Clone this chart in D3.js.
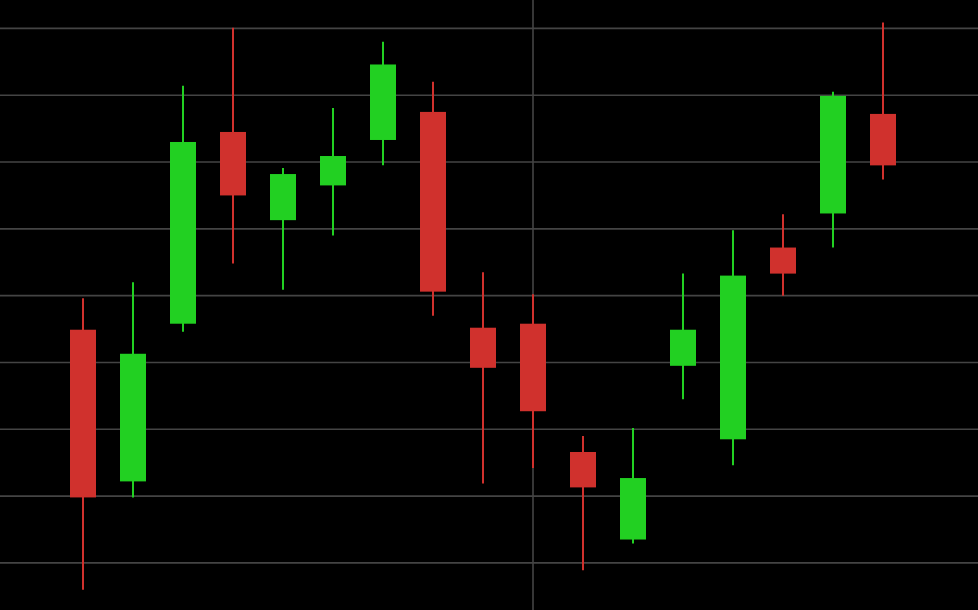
<!DOCTYPE html>
<html>
<head>
<meta charset="utf-8">
<script src="https://cdn.jsdelivr.net/npm/d3@7"></script>
<style>
  html, body { margin: 0; padding: 0; background: #000; overflow: hidden; }
</style>
</head>
<body>
<div id="chart"></div>
<script>
// candle data, one entry per session
var days = ["D1","D2","D3","D4","D5","D6","D7","D8","D9","D10","D11","D12","D13","D14","D15","D16","D17"];
var opens  = [44.9, 22.2, 45.8, 74.5, 61.3, 66.5, 73.3, 77.5, 45.2, 45.8, 26.6, 13.5, 39.5, 28.5, 57.2, 62.3, 77.2];
var highs  = [49.6, 52.0, 81.4, 90.1, 69.1, 78.1, 88.0, 82.0, 53.5, 50.2, 29.0, 30.2, 53.3, 59.8, 62.2, 80.5, 90.9];
var lows   = [ 6.0, 19.8, 44.6, 54.8, 50.9, 59.0, 69.5, 47.0, 21.9, 24.2,  8.9, 12.9, 34.5, 24.6, 50.0, 57.2, 67.4];
var closes = [19.8, 41.3, 73.0, 65.0, 68.2, 70.9, 84.6, 50.6, 39.2, 32.7, 21.3, 22.7, 44.9, 53.0, 53.3, 79.9, 69.5];
var gridValues = [10, 20, 30, 40, 50, 60, 70, 80, 90];
var markerDay = "D10";

var width = 978, height = 610;

var data = days.map(function(d, i) {
  return {day: d, open: opens[i], high: highs[i], low: lows[i], close: closes[i]};
});

var svg = d3.select("#chart")
  .append("svg")
  .attr("width", width)
  .attr("height", height)
  .style("display", "block")
  .style("background", "#000");

var x = d3.scaleBand()
  .domain(days)
  .range([58, 908])
  .paddingInner(0.48)
  .paddingOuter(0.24);

var y = d3.scaleLinear()
  .domain([10, 90])
  .range([562.9, 28.4]);

// horizontal grid
svg.append("g")
  .selectAll("line")
  .data(gridValues)
  .join("line")
  .attr("x1", 0)
  .attr("x2", width)
  .attr("y1", function(d) { return y(d); })
  .attr("y2", function(d) { return y(d); })
  .attr("stroke", "#444")
  .attr("stroke-width", 1.6);

// vertical marker line
svg.append("line")
  .attr("x1", x(markerDay) + x.bandwidth() / 2)
  .attr("x2", x(markerDay) + x.bandwidth() / 2)
  .attr("y1", 0)
  .attr("y2", height)
  .attr("stroke", "#444")
  .attr("stroke-width", 1.6);

function color(d) { return d.close >= d.open ? "#22d022" : "#d0312d"; }

var candles = svg.append("g")
  .selectAll("g")
  .data(data)
  .join("g");

// wicks
candles.append("line")
  .attr("x1", function(d) { return x(d.day) + x.bandwidth() / 2; })
  .attr("x2", function(d) { return x(d.day) + x.bandwidth() / 2; })
  .attr("y1", function(d) { return y(d.high); })
  .attr("y2", function(d) { return y(d.low); })
  .attr("stroke", color)
  .attr("stroke-width", 2);

// bodies
candles.append("rect")
  .attr("x", function(d) { return x(d.day); })
  .attr("width", x.bandwidth())
  .attr("y", function(d) { return y(Math.max(d.open, d.close)); })
  .attr("height", function(d) { return Math.abs(y(d.open) - y(d.close)); })
  .attr("fill", color);
</script>
</body>
</html>
